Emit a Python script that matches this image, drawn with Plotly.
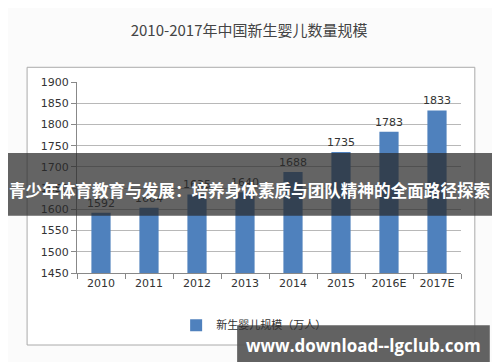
import plotly.graph_objects as go

categories = ["2010", "2011", "2012", "2013", "2014", "2015", "2016E", "2017E"]
births = [1592, 1604, 1635, 1640, 1688, 1735, 1783, 1833]
y_ticks = [1450, 1500, 1550, 1600, 1650, 1700, 1750, 1800, 1850, 1900]
series_name = "新生婴儿规模（万人）"
chart_title = "2010-2017年中国新生婴儿数量规模"
banner_text = "青少年体育教育与发展：培养身体素质与团队精神的全面路径探索"
watermark = "www.download--lgclub.com"

# page body has an 8px default margin; figure is sized to fill the remaining window
W, H = 492, 354

fig = go.Figure()
fig.add_trace(go.Bar(
    x=categories, y=births, name=series_name,
    marker=dict(color="#4F81BD", line=dict(width=0)),
    width=0.4,
    text=[str(v) for v in births], textposition="outside",
    textfont=dict(size=11, color="#333333", family="DejaVu Sans"),
    constraintext="none",
    cliponaxis=False,
    showlegend=True,
))

fig.update_layout(
    width=W, height=H,
    margin=dict(l=69, r=39, t=74, b=89),
    paper_bgcolor="#fbfbfb", plot_bgcolor="white",
    font=dict(family="DejaVu Sans", size=11, color="#333333"),
    title=dict(text=chart_title, x=0.49, xanchor="center", y=1 - 23 / H, yanchor="middle",
               font=dict(family="Noto Sans CJK SC", size=15, color="#444444")),
    bargap=0.6,
    xaxis=dict(type="category", showline=True, linecolor="#888888", linewidth=1,
               ticks="outside", ticklen=5, tickcolor="#888888", tickson="boundaries",
               tickfont=dict(size=11, color="#333333"), showgrid=False),
    yaxis=dict(range=[1450, 1900], tickvals=y_ticks, showline=True, linecolor="#888888",
               linewidth=1, ticks="outside", ticklen=5, tickcolor="#888888",
               gridcolor="#b8b8b8", gridwidth=1, zeroline=False,
               tickfont=dict(size=11, color="#333333")),
    legend=dict(orientation="h", x=0.46, xanchor="center", y=-0.273, yanchor="middle",
                font=dict(family="Noto Sans CJK SC", size=11, color="#333333"),
                bgcolor="rgba(0,0,0,0)", itemwidth=30),
    shapes=[
        dict(type="rect", xref="paper", yref="paper", x0=-0.130, x1=1.036, y0=-0.377, y1=1.077,
             line=dict(color="#aaaaaa", width=1), fillcolor="white", layer="below"),
        dict(type="rect", xref="paper", yref="paper", x0=-0.25, x1=1.15, y0=0.30, y1=0.628,
             line=dict(width=0), fillcolor="rgba(40,40,40,0.72)", layer="above"),
        dict(type="rect", xref="paper", yref="paper", x0=0.417, x1=1.075, y0=-0.481, y1=-0.273,
             line=dict(width=0), fillcolor="rgba(85,85,85,0.92)", layer="above"),
    ],
    annotations=[
        dict(text="<b>" + banner_text + "</b>", xref="paper", yref="paper", x=0.45, y=0.437,
             xanchor="center", yanchor="middle", showarrow=False,
             font=dict(family="Noto Sans CJK SC", size=16.6, color="white")),
        dict(text="<b>" + watermark + "</b>", xref="paper", yref="paper", x=0.745, y=-0.377,
             xanchor="center", yanchor="middle", showarrow=False,
             font=dict(family="Open Sans", size=17, color="white")),
    ],
)

fig.write_html("out.html")
